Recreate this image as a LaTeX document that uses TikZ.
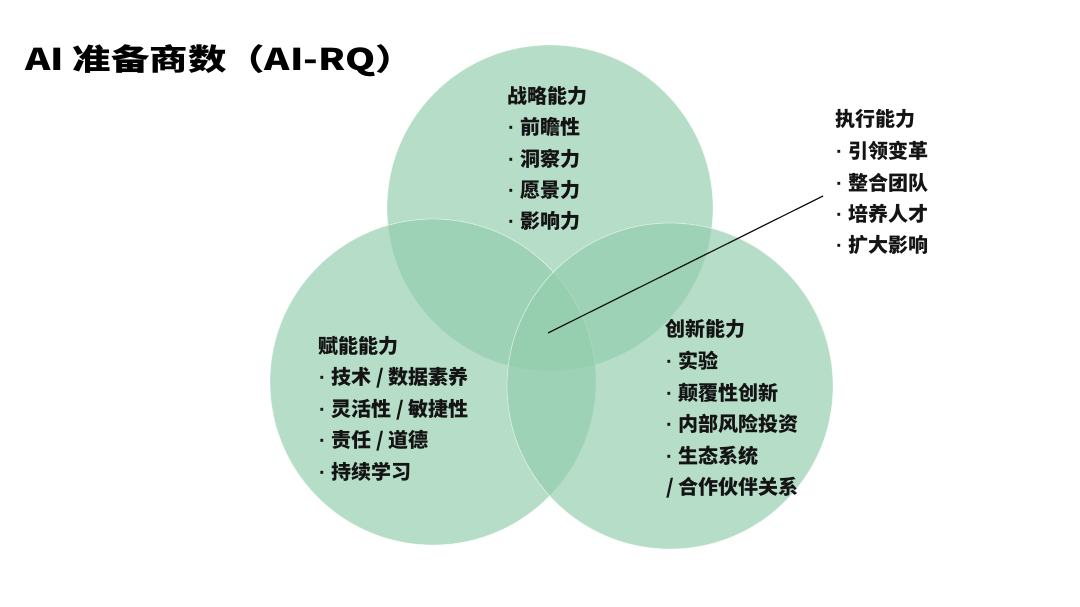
\documentclass[tikz,border=0pt]{standalone}
\usepackage{fontspec}
\newfontfamily\cjk{Noto Sans CJK SC}
\newfontfamily\lat{Liberation Sans}
\definecolor{vgreen}{RGB}{146,206,174}
\definecolor{ink}{RGB}{20,20,20}
\newcommand{\bul}{{\lat\bfseries ·}\hspace{6pt}}
\tikzset{
  venn/.style={circle, minimum size=326pt, inner sep=0pt, fill=vgreen, fill opacity=0.68, draw=white, draw opacity=0.55, line width=0.8pt},
  head/.style={anchor=west, inner sep=0pt, font=\cjk\bfseries\fontsize{20}{24}\selectfont, text=ink},
  item/.style={anchor=west, inner sep=0pt, font=\cjk\bfseries\fontsize{20}{24}\selectfont, text=ink},
  titlestyle/.style={anchor=west, inner sep=0pt, xscale=1.28, font=\cjk\bfseries\fontsize{30}{34}\selectfont, text=black},
  leader/.style={draw=ink, line width=1.2pt}
}
\begin{document}
\begin{tikzpicture}[x=1pt,y=-1pt]
\useasboundingbox (0,0) rectangle (1080,607);
\fill[white] (0,0) rectangle (1080,607);
% circles
\node[venn] (top) at (550,208) {};
\node[venn] (left) at (433,382) {};
\node[venn] (right) at (670,386) {};
% title
\node[titlestyle] (title) at (25,61) {AI 准备商数（AI-RQ）};
% strategy
\node[head] (hs) at (507,96) {战略能力};
\foreach \t [count=\i] in {前瞻性,洞察力,愿景力,影响力}
  \node[item] (s\i) at (508,{127+31.4*(\i-1)}) {\bul\t};
% execution
\node[head] (he) at (835,119) {执行能力};
\foreach \t [count=\i] in {引领变革,整合团队,培养人才,扩大影响}
  \node[item] (e\i) at (836,{151+31.4*(\i-1)}) {\bul\t};
% enabling
\node[head] (hl) at (318,346) {赋能能力};
\foreach \t [count=\i] in {技术 / 数据素养,灵活性 / 敏捷性,责任 / 道德,持续学习}
  \node[item] (l\i) at (319,{378+31.4*(\i-1)}) {\bul\t};
% innovation
\node[head] (hr) at (665,329) {创新能力};
\foreach \t [count=\i] in {实验,颠覆性创新,内部风险投资,生态系统}
  \node[item] (r\i) at (666,{361+31.6*(\i-1)}) {\bul\t};
\node[item] (r5) at (666,488) {/ 合作伙伴关系};
% leader line
\coordinate (lc) at (548,333);
\coordinate (le) at (823,196);
\draw[leader] (lc) -- (le);
\end{tikzpicture}
\end{document}
